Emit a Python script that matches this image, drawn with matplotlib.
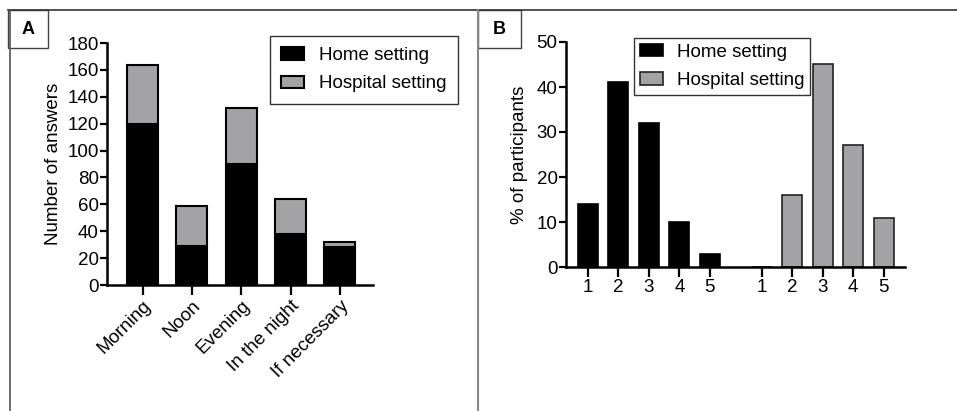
import numpy as np
import matplotlib
matplotlib.use('Agg')
import matplotlib.pyplot as plt
from matplotlib.patches import Rectangle
from matplotlib.lines import Line2D

plt.rcParams['font.family'] = ['Liberation Sans', 'DejaVu Sans']

# panel A data
times = ['Morning', 'Noon', 'Evening', 'In the night', 'If necessary']
home_counts = [120, 29, 90, 38, 28]
hospital_counts = [44, 30, 42, 26, 4]

# panel B data
scores = ['1', '2', '3', '4', '5']
home_pct = [14, 41, 32, 10, 3]
hospital_pct = [0, 16, 45, 27, 11]

black = '#000000'
grey = '#a3a3a6'
W, H = 957, 411
FS = 13.5

fig = plt.figure(figsize=(W / 100, H / 100), dpi=100)


def px_axes(x0, x1, ytop, ybot):
    return fig.add_axes([x0 / W, (H - ybot) / H, (x1 - x0) / W, (ybot - ytop) / H])


def style(ax):
    for s in ['top', 'right']:
        ax.spines[s].set_visible(False)
    for s in ['left', 'bottom']:
        ax.spines[s].set_linewidth(1.8)
    ax.tick_params(axis='y', width=1.6, length=5, labelsize=FS, pad=1)
    ax.tick_params(axis='x', width=1.6, length=7, labelsize=FS, pad=2)


# frame lines and panel letters
fig.add_artist(Line2D([8 / W, 1], [1 - 10 / H] * 2, color='#333333', lw=1.2))
fig.add_artist(Line2D([10 / W] * 2, [0, 1 - 10 / H], color='#555555', lw=1.2))
fig.add_artist(Line2D([478 / W] * 2, [0, 1 - 10 / H], color='#888888', lw=1.5))
for x0, x1, lab in [(8, 48, 'A'), (478, 521, 'B')]:
    fig.add_artist(Rectangle((x0 / W, 1 - 48 / H), (x1 - x0) / W, 38 / H,
                             transform=fig.transFigure, fill=True, fc='white',
                             ec='#444444', lw=1.0))
    fig.text((x0 + x1) / 2 / W, 1 - 29 / H, lab, ha='center', va='center',
             fontsize=13, fontweight='bold')

# panel A
axA = px_axes(107, 373, 43, 285)
xa = np.arange(len(times))
axA.bar(xa, home_counts, width=0.63, color=black, edgecolor=black, linewidth=1.5,
        label='Home setting')
axA.bar(xa, hospital_counts, width=0.63, bottom=home_counts, color=grey,
        edgecolor=black, linewidth=1.5, label='Hospital setting')
axA.set_xlim(-0.72, 4.67)
axA.set_ylim(0, 180)
axA.set_yticks(range(0, 181, 20))
axA.set_xticks(xa)
axA.set_xticklabels(times, rotation=45, ha='right', rotation_mode='anchor')
axA.set_ylabel('Number of answers', fontsize=FS, labelpad=4)
style(axA)
axA.legend(loc='upper right', bbox_to_anchor=((458 - 107) / (373 - 107), (285 - 36) / 242),
           borderaxespad=0, fontsize=FS, frameon=True, fancybox=False,
           edgecolor='#333333', framealpha=1,
           handlelength=1.25, handleheight=0.65, borderpad=0.6, labelspacing=0.6,
           handletextpad=0.8)

# panel B
axB = px_axes(566, 905, 42, 267)
xb_home = np.arange(5)
xb_hosp = np.arange(5) + 5.7
axB.bar(xb_home, home_pct, width=0.66, color=black, edgecolor=black, linewidth=1.2,
        label='Home setting')
axB.bar(xb_hosp, hospital_pct, width=0.66, color=grey, edgecolor='#222222',
        linewidth=1.2, label='Hospital setting')
axB.set_xlim(-0.72, 10.4)
axB.set_ylim(0, 50)
axB.set_yticks(range(0, 51, 10))
axB.set_xticks(np.concatenate([xb_home, xb_hosp]))
axB.set_xticklabels(scores + scores)
axB.set_ylabel('% of participants', fontsize=FS, labelpad=6)
style(axB)
axB.legend(loc='upper left', bbox_to_anchor=((634 - 566) / (905 - 566), (267 - 38) / 225),
           borderaxespad=0, fontsize=FS, frameon=True, fancybox=False,
           edgecolor='#333333', framealpha=1,
           handlelength=1.25, handleheight=0.65, borderpad=0.3, labelspacing=0.6,
           handletextpad=0.75)

fig.savefig('out.png', dpi=100)
